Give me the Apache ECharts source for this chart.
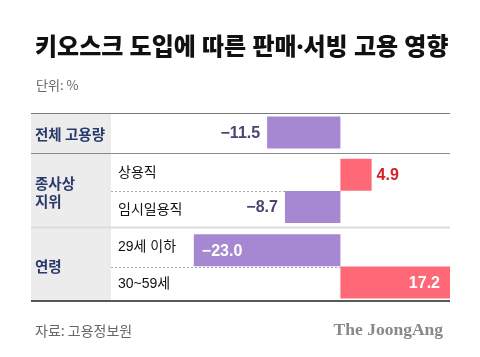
<!DOCTYPE html>
<html><head><meta charset="utf-8">
<script src="https://cdn.jsdelivr.net/npm/echarts@6/dist/echarts.min.js"></script>
<style>html,body{margin:0;padding:0;background:#fff}#c{width:480px;height:357px}</style>
</head><body><div id="c"></div>
<script>
// ---- data ----
const titleText = '키오스크 도입에 따른 판매·서빙 고용 영향';
const unitText = '단위: %';
const sourceText = '자료: 고용정보원';
const brandText = 'The JoongAng';
const categories = ['전체 고용량', '상용직', '임시일용직', '29세 이하', '30~59세'];
const values = [-11.5, 4.9, -8.7, -23.0, 17.2];
const groupNames = ['종사상\n지위', '연령'];
const groupRows = [[1, 2], [3, 4]];

// ---- styles ----
const KR = '"Noto Sans CJK KR", "Noto Sans", sans-serif';
const MIX = '"Liberation Sans", "Noto Sans CJK KR", sans-serif';
const TITLE_FONT = '"Noto Sans", "Noto Sans CJK KR", sans-serif';
const NUM = '"Liberation Sans", Arial, sans-serif';
const PURPLE = '#a688d2', RED = '#ff6876';
const barShift = [-2, 3, -2, 4, -1]; // px offsets within bands (table layout)
const BAR_H = 32;
const G = {left: 111, right: 30, top: 116, bottom: 55};

const chart = echarts.init(document.getElementById('c'), null, {renderer: 'canvas'});

function fmt(v) { return (v < 0 ? '\u2212' : '') + Math.abs(v).toFixed(1); }

const option = {
  animation: false,
  backgroundColor: '#fff',
  title: [
    {text: titleText, left: 30, top: 31, textStyle: {fontFamily: TITLE_FONT, fontSize: 24, fontWeight: 900, color: '#111'}},
    {text: unitText, left: 31, top: 74, textStyle: {fontFamily: KR, fontSize: 13, fontWeight: 'normal', color: '#666'}},
    {text: sourceText, left: 30, top: 319, textStyle: {fontFamily: KR, fontSize: 14, fontWeight: 'normal', color: '#666'}},
    {text: brandText, right: 32, top: 316, textStyle: {fontFamily: '"Liberation Serif", "DejaVu Serif", serif', fontSize: 17.5, fontWeight: 'bold', color: '#888'}}
  ],
  grid: G,
  xAxis: {type: 'value', min: -36, max: 17.2, show: false},
  yAxis: {
    type: 'category', inverse: true, data: categories,
    axisLine: {show: false}, axisTick: {show: false}, splitLine: {show: false},
    axisLabel: {
      margin: 76, align: 'left',
      formatter: (v, i) => i === 0 ? '{g|' + v + '}' : '{s|' + v + '}',
      rich: {
        g: {fontFamily: KR, fontSize: 14.5, fontWeight: 'bold', color: '#28396b'},
        s: {fontFamily: MIX, fontSize: 14, color: '#111', padding: [2, 0, 0, 83]}
      }
    }
  },
  series: [{
    type: 'custom',
    data: values.map((v, i) => [v, i]),
    encode: {x: 0, y: 1},
    z: 5,
    renderItem: function (params, api) {
      const v = api.value(0), idx = api.value(1);
      const p0 = api.coord([0, idx]);
      const p1 = api.coord([v, idx]);
      const cy = p0[1] + barShift[idx];
      const x0 = Math.min(p0[0], p1[0]), w = Math.abs(p1[0] - p0[0]);
      const inside = w > 100;
      let tx, align, color;
      if (inside) {
        color = '#fff';
        if (v < 0) { tx = p1[0] + 8; align = 'left'; } else { tx = p1[0] - 10; align = 'right'; }
      } else {
        if (v < 0) { tx = p1[0] - 7; align = 'right'; color = '#4a4470'; }
        else { tx = p1[0] + 5; align = 'left'; color = '#d81e26'; }
      }
      return {
        type: 'group',
        children: [
          {type: 'rect', shape: {x: x0, y: cy - BAR_H / 2, width: w, height: BAR_H},
           style: {fill: v < 0 ? PURPLE : RED}},
          {type: 'text', x: tx, y: cy + 1,
           style: {text: fmt(v), fill: color, font: 'bold 16px ' + NUM, align: align, verticalAlign: 'middle'}}
        ]
      };
    }
  }]
};
chart.setOption(option);

// table decoration
const L = 31, R = 450, C = 111;
const zeroX = chart.convertToPixel({xAxisIndex: 0}, 0);
const gfx = [
  {type: 'rect', z: -10, shape: {x: L, y: 114, width: C - L, height: 187}, style: {fill: '#ececec'}},
  {type: 'line', z: 1, shape: {x1: L, y1: 113.5, x2: R, y2: 113.5}, style: {stroke: '#7a7a7a', lineWidth: 1}},
  {type: 'line', z: 1, shape: {x1: L, y1: 153.5, x2: R, y2: 153.5}, style: {stroke: '#8a8a8a', lineWidth: 1}},
  {type: 'line', z: 1, shape: {x1: L, y1: 227.5, x2: R, y2: 227.5}, style: {stroke: '#dcdcdc', lineWidth: 2}},
  {type: 'line', z: 1, shape: {x1: C, y1: 191.5, x2: zeroX, y2: 191.5}, style: {stroke: '#aaa', lineWidth: 1, lineDash: [2, 2]}},
  {type: 'line', z: 1, shape: {x1: C, y1: 267.5, x2: zeroX, y2: 267.5}, style: {stroke: '#aaa', lineWidth: 1, lineDash: [2, 2]}},
  {type: 'line', z: 10, shape: {x1: L, y1: 301, x2: R, y2: 301}, style: {stroke: '#222', lineWidth: 1.5}}
];
groupNames.forEach((name, gi) => {
  const rows = groupRows[gi];
  const ys = rows.map(r => chart.convertToPixel({yAxisIndex: 0}, r));
  const y = (ys[0] + ys[ys.length - 1]) / 2;
  gfx.push({type: 'text', z: 5, x: 35, y: y + 2,
    style: {text: name, fill: '#28396b', font: 'bold 14.5px ' + KR, verticalAlign: 'middle', lineHeight: 18}});
});
chart.setOption({graphic: gfx});
</script>
</body></html>
